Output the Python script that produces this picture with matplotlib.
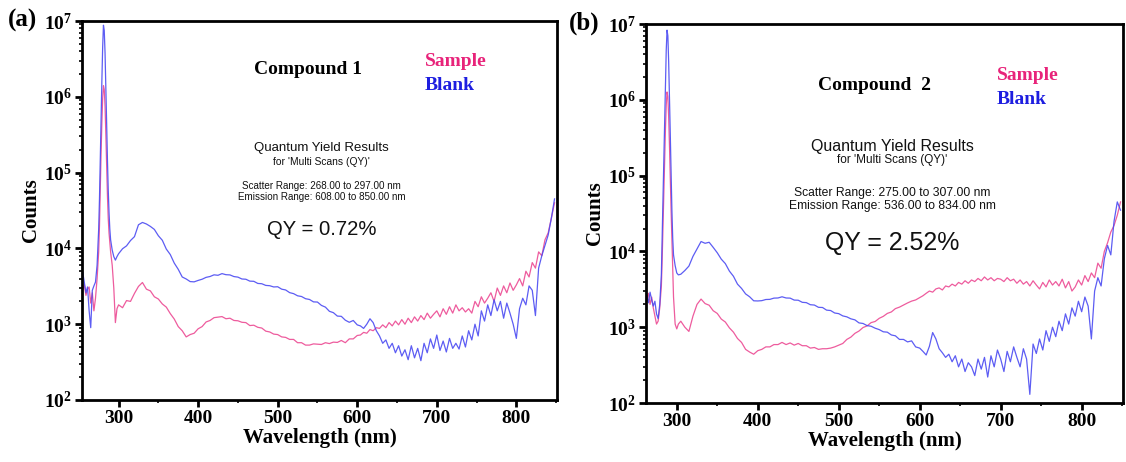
import matplotlib
matplotlib.use("Agg")
import matplotlib.pyplot as plt
from matplotlib.ticker import LogLocator, MultipleLocator, NullFormatter

plt.rcParams["font.family"] = "Liberation Serif"
plt.rcParams["mathtext.fontset"] = "custom"
plt.rcParams["mathtext.rm"] = "Liberation Serif:bold"
plt.rcParams["mathtext.bf"] = "Liberation Serif:bold"

# ---- Compound 1 spectra (counts vs wavelength in nm)
wl_a = ([255, 257, 259, 261, 263, 265, 267, 269, 271, 273, 275]
        + list(range(276, 291)) + [292, 294, 296, 298]
        + list(range(300, 601, 5)) + list(range(604, 849, 4)))

blank_a = ([4800, 3500, 2600, 3100, 1500, 900, 2800, 3200, 3600, 6000, 18000]
           + [45000, 150000, 500000, 1600000, 4500000, 8800000, 7500000, 3800000,
              1400000, 450000, 150000, 60000, 30000, 18000, 13000]
           + [9500, 7800, 7000, 7800]
           + [8500, 9900, 10800, 12700, 14300, 20500, 22000, 21000, 19500, 17800,
              14700, 12800, 9800, 8300, 6400, 5300, 4200, 3950, 3650, 3620,
              3780, 3920, 4150, 4260, 4480, 4420, 4650, 4500, 4470, 4250,
              4180, 3950, 3920, 3700, 3680, 3450, 3420, 3250, 3220, 3100,
              3120, 2900, 2830, 2610, 2530, 2370, 2320, 2170, 2120, 1970,
              1960, 1770, 1680, 1480, 1420, 1280, 1270, 1130, 1060, 1120, 980]
           + [950, 880, 1000, 1180, 1050, 820, 700, 560, 620, 480,
              560, 420, 520, 380, 460, 340, 520, 360, 480, 330,
              560, 420, 640, 480, 720, 450, 600, 430, 650, 480,
              560, 470, 700, 500, 820, 620, 1000, 700, 1500, 1100,
              1800, 1300, 2100, 1500, 2000, 1200, 1900, 1400, 1000, 650,
              1600, 2200, 1800, 3200, 2800, 1300, 5500, 8000, 11000, 15000,
              25000, 45000])

sample_a = ([2900, 3300, 2400, 2900, 3100, 1900, 2600, 1500, 2200, 4000, 9000]
            + [20000, 60000, 180000, 450000, 950000, 1400000, 1250000, 750000,
               320000, 120000, 50000, 25000, 16000, 12000, 9000]
            + [6000, 3000, 1050, 1600]
            + [1800, 1650, 2050, 2000, 2550, 3150, 3550, 2900, 2750, 2300,
               2150, 1850, 1680, 1380, 1170, 930, 820, 680, 730, 760,
               870, 930, 1070, 1120, 1220, 1240, 1260, 1180, 1200, 1120,
               1110, 1060, 1050, 960, 970, 910, 890, 810, 790, 740,
               730, 680, 670, 630, 630, 570, 570, 530, 530, 550,
               545, 540, 570, 555, 580, 575, 610, 570, 640, 640, 710]
            + [720, 780, 760, 850, 820, 900, 880, 980, 900, 1050,
               950, 1100, 980, 1150, 1000, 1200, 1050, 1250, 1100, 1300,
               1150, 1400, 1200, 1350, 1500, 1250, 1600, 1350, 1700, 1400,
               1800, 1500, 1650, 1450, 1600, 1400, 2000, 1700, 2300, 1900,
               2200, 2600, 2000, 3000, 2400, 3200, 2600, 3500, 2800, 3300,
               4000, 3200, 5000, 4200, 6500, 5500, 9000, 8000, 13000, 16000,
               25000, 40000])

# ---- Compound 2 spectra
wl_b = ([263, 265, 267, 269, 271, 273, 275, 277, 279, 281]
        + list(range(282, 297)) + [298, 300, 302]
        + list(range(305, 601, 5)) + list(range(604, 849, 4)))

blank_b = ([2600, 2100, 2900, 2300, 1900, 2200, 1500, 1300, 2000, 5000]
           + [15000, 50000, 160000, 500000, 1500000, 4500000, 8300000, 7000000,
              3200000, 1100000, 350000, 110000, 35000, 15000, 9000]
           + [6500, 5200, 4900]
           + [5000, 5600, 6400, 8600, 10800, 13500, 12800, 13200, 11300, 9600,
              7900, 6900, 5500, 4700, 3700, 3250, 2750, 2520, 2230, 2220,
              2240, 2320, 2330, 2420, 2430, 2520, 2430, 2420, 2280, 2270,
              2130, 2110, 1980, 1960, 1830, 1820, 1680, 1660, 1540, 1510,
              1410, 1370, 1290, 1250, 1140, 1120, 1050, 1030, 970, 930,
              870, 860, 790, 770, 690, 690, 640, 660, 550, 530]
           + [480, 430, 560, 850, 700, 520, 460, 400, 440, 350,
              420, 300, 380, 260, 340, 300, 230, 380, 280, 400,
              220, 420, 300, 500, 380, 260, 480, 350, 550, 400,
              300, 520, 380, 130, 600, 450, 700, 500, 900, 650,
              1000, 750, 1200, 900, 1500, 1100, 1800, 1400, 2200, 1600,
              2500, 1900, 700, 3000, 4500, 3500, 8000, 12000, 9000, 25000,
              45000, 35000])

sample_b = ([2400, 2800, 2000, 2500, 1800, 1400, 1100, 1200, 1800, 3500]
            + [8000, 22000, 60000, 160000, 400000, 850000, 1270000, 1100000,
               600000, 250000, 90000, 35000, 15000, 6000, 2500]
            + [1100, 950, 1100]
            + [1200, 1000, 880, 1400, 2000, 2350, 2050, 1950, 1650, 1520,
               1280, 1170, 980, 860, 710, 630, 510, 470, 440, 490,
               510, 550, 550, 590, 590, 630, 590, 620, 580, 610,
               570, 570, 530, 540, 510, 520, 520, 530, 550, 580,
               610, 690, 740, 830, 890, 990, 1040, 1150, 1190, 1310,
               1390, 1520, 1590, 1760, 1840, 1960, 2090, 2210, 2290, 2460]
            + [2600, 2800, 3000, 2900, 3200, 3300, 3100, 3500, 3400, 3700,
               3500, 3900, 3700, 4100, 3800, 4200, 4000, 4400, 4100, 4600,
               4200, 4500, 4100, 4400, 4300, 4000, 4500, 4100, 4300, 3800,
               4200, 3700, 4000, 3500, 4100, 3600, 3200, 3900, 3400, 4200,
               3600, 4000, 3500, 4300, 3300, 4000, 3000, 3400, 4200, 3600,
               4800, 4000, 5200, 4500, 7000, 6000, 10000, 13000, 18000, 22000,
               30000, 45000])

x_ticks = [300, 400, 500, 600, 700, 800]
y_exponents = [2, 3, 4, 5, 6, 7]

SAMPLE_LINE = "#ec4a93"
BLANK_LINE = "#4b4bf2"
SAMPLE_TEXT = "#e8237a"
BLANK_TEXT = "#1e1ee0"

fig = plt.figure(figsize=(11.26, 4.62), dpi=100)
ax_a = fig.add_axes([0.0728, 0.1342, 0.4218, 0.8203])
ax_b = fig.add_axes([0.5737, 0.1277, 0.4236, 0.8203])


def draw_panel(ax, wl, sample, blank, xlim):
    ax.semilogy(wl, sample, color=SAMPLE_LINE, lw=0.9, alpha=0.9)
    ax.semilogy(wl, blank, color=BLANK_LINE, lw=0.9, alpha=0.9)
    ax.set_xlim(*xlim)
    ax.set_ylim(1e2, 1e7)
    ax.set_xticks(x_ticks)
    ax.set_xticklabels([str(t) for t in x_ticks], fontweight="bold")
    ax.set_yticks([10.0 ** e for e in y_exponents])
    ax.set_yticklabels([r"$\mathbf{10^{%d}}$" % e for e in y_exponents])
    ax.xaxis.set_minor_locator(MultipleLocator(50))
    ax.yaxis.set_minor_locator(LogLocator(base=10, subs=range(2, 10), numticks=20))
    ax.yaxis.set_minor_formatter(NullFormatter())
    ax.tick_params(which="major", direction="out", length=5, width=2,
                   labelsize=14, pad=2)
    ax.tick_params(which="minor", direction="out", length=2.5, width=1.2)
    for side in ax.spines.values():
        side.set_linewidth(2)
    ax.set_xlabel("Wavelength (nm)", fontsize=15, fontweight="bold", labelpad=1)
    ax.set_ylabel("Counts", fontsize=15, fontweight="bold", labelpad=2)


draw_panel(ax_a, wl_a, sample_a, blank_a, (254, 851))
draw_panel(ax_b, wl_b, sample_b, blank_b, (262, 851))

# panel letters
fig.text(0.007, 0.955, "(a)", fontsize=18, fontweight="bold", va="center")
fig.text(0.505, 0.950, "(b)", fontsize=18, fontweight="bold", va="center")

# compound titles and series key
ax_a.text(0.476, 0.873, "Compound 1", transform=ax_a.transAxes, ha="center",
          va="center", fontsize=14, fontweight="bold")
ax_a.text(0.722, 0.894, "Sample", transform=ax_a.transAxes, va="center",
          fontsize=14, fontweight="bold", color=SAMPLE_TEXT)
ax_a.text(0.722, 0.831, "Blank", transform=ax_a.transAxes, va="center",
          fontsize=14, fontweight="bold", color=BLANK_TEXT)

ax_b.text(0.480, 0.839, "Compound  2", transform=ax_b.transAxes, ha="center",
          va="center", fontsize=14, fontweight="bold")
ax_b.text(0.736, 0.865, "Sample", transform=ax_b.transAxes, va="center",
          fontsize=14, fontweight="bold", color=SAMPLE_TEXT)
ax_b.text(0.736, 0.802, "Blank", transform=ax_b.transAxes, va="center",
          fontsize=14, fontweight="bold", color=BLANK_TEXT)

# quantum yield result blocks
qy_font = "Liberation Sans"
results = [
    (ax_a, 0.505, [0.665, 0.628, 0.565, 0.536, 0.451], [9.5, 7.4, 7.1, 7.1, 14.6],
     ["Scatter Range: 268.00 to 297.00 nm", "Emission Range: 608.00 to 850.00 nm"],
     "QY = 0.72%"),
    (ax_b, 0.516, [0.678, 0.641, 0.554, 0.520, 0.423], [11.5, 8.5, 8.7, 8.7, 17.9],
     ["Scatter Range: 275.00 to 307.00 nm", "Emission Range: 536.00 to 834.00 nm"],
     "QY = 2.52%"),
]
for ax, xc, ys, sizes, ranges, qy in results:
    lines = ["Quantum Yield Results", "for 'Multi Scans (QY)'"] + ranges + [qy]
    for line, y, s in zip(lines, ys, sizes):
        ax.text(xc, y, line, transform=ax.transAxes, ha="center", va="center",
                fontsize=s, family=qy_font, color="#111111")

fig.savefig("out.png", dpi=100)
